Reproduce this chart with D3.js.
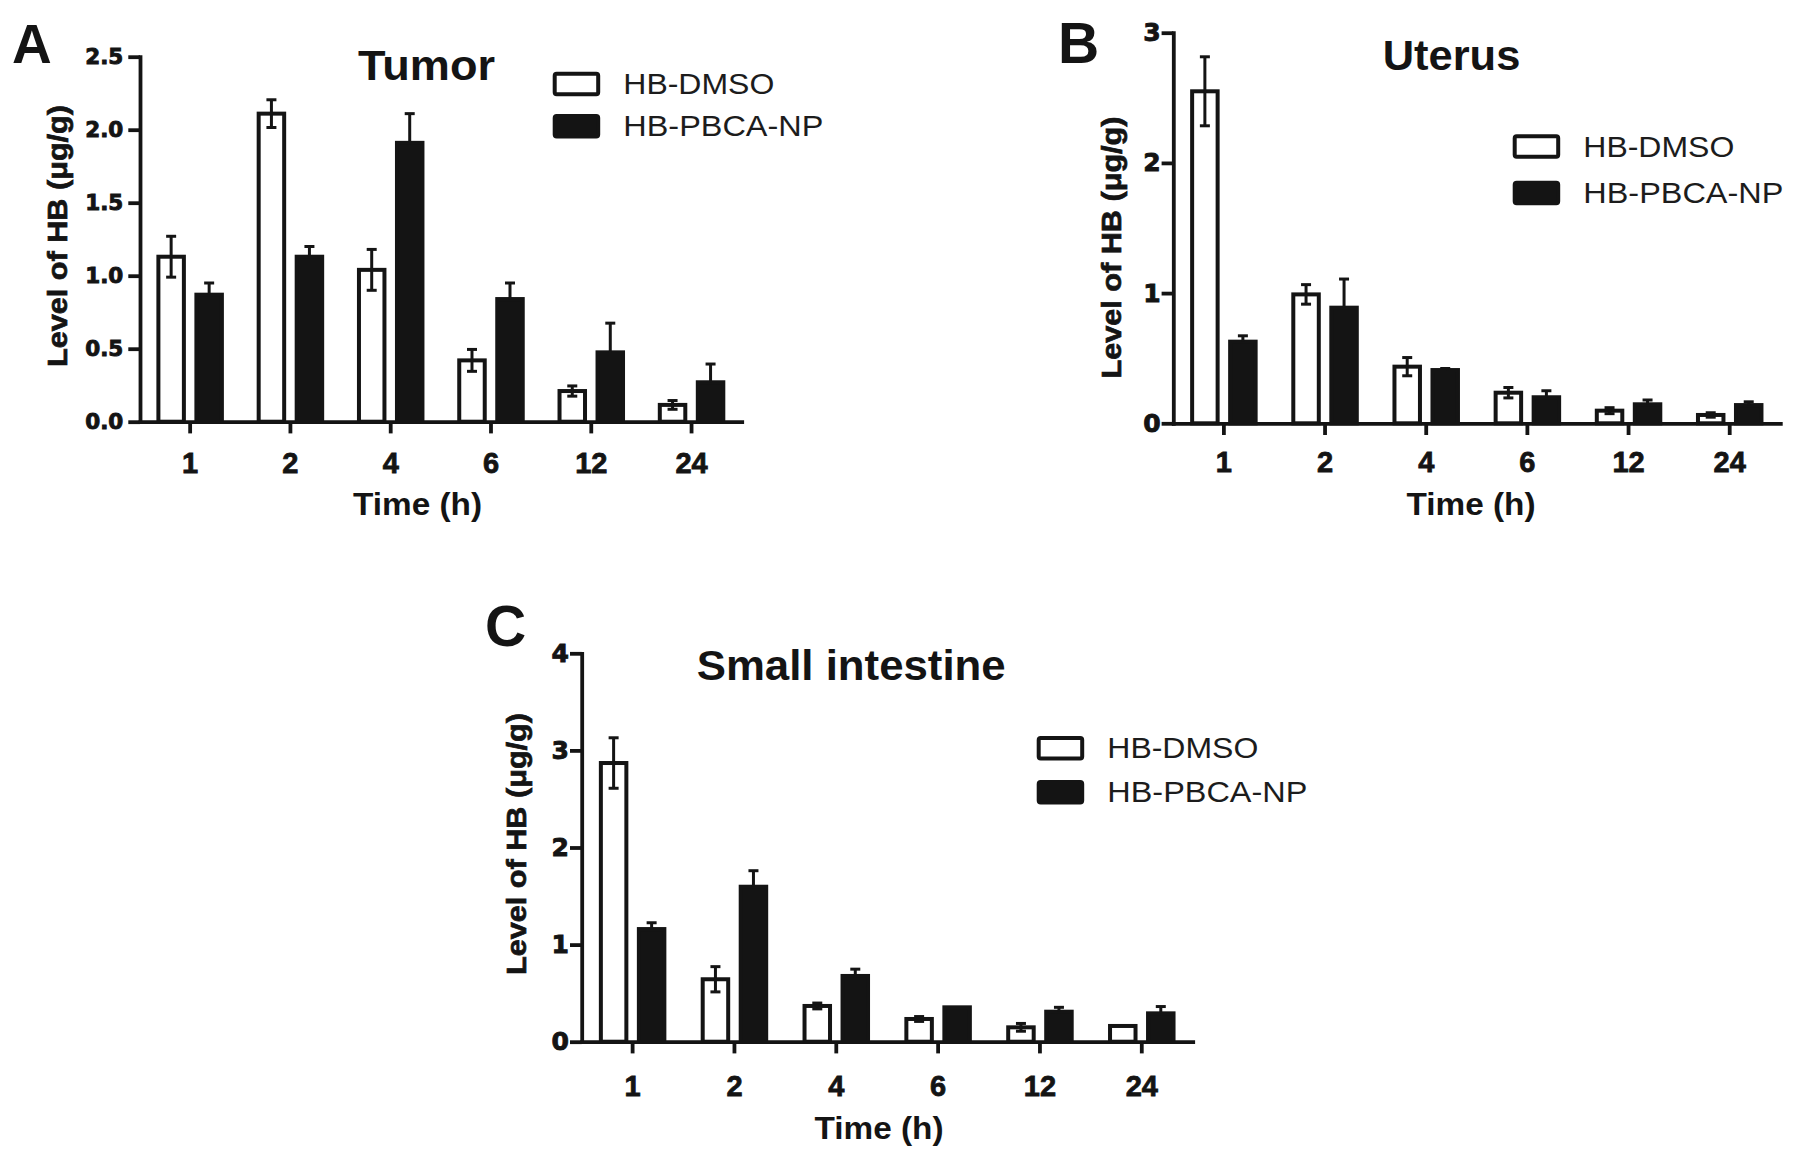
<!DOCTYPE html>
<html>
<head>
<meta charset="utf-8">
<script src="https://cdn.jsdelivr.net/npm/d3@7"></script>
<style>
  html, body { margin: 0; padding: 0; background: #ffffff; }
  svg { display: block; }
</style>
</head>
<body>
<svg id="chart" width="1801" height="1158"></svg>
<script>
// ---------------- DATA ----------------
const timeLabels = ["1", "2", "4", "6", "12", "24"];
const seriesNames = ["HB-DMSO", "HB-PBCA-NP"];

const tumorDMSO    = [1.13, 2.11, 1.04, 0.42, 0.21, 0.115];
const tumorDMSOErr = [0.14, 0.095, 0.14, 0.075, 0.035, 0.03];
const tumorNP      = [0.87, 1.13, 1.91, 0.84, 0.475, 0.27];
const tumorNPErr   = [0.08, 0.07, 0.20, 0.11, 0.20, 0.125];

const uterusDMSO    = [2.55, 0.99, 0.435, 0.235, 0.097, 0.064];
const uterusDMSOErr = [0.265, 0.075, 0.07, 0.04, 0.023, 0.017];
const uterusNP      = [0.627, 0.888, 0.409, 0.20, 0.146, 0.14];
const uterusNPErr   = [0.045, 0.22, 0.012, 0.05, 0.033, 0.025];

const intestineDMSO    = [2.87, 0.643, 0.368, 0.234, 0.148, 0.162];
const intestineDMSOErr = [0.26, 0.13, 0.03, 0.025, 0.04, 0];
const intestineNP      = [1.16, 1.596, 0.677, 0.354, 0.309, 0.292];
const intestineNPErr   = [0.065, 0.165, 0.07, 0, 0.045, 0.07];

const tumorTicks = [0, 0.5, 1.0, 1.5, 2.0, 2.5];
const uterusTicks = [0, 1, 2, 3];
const intestineTicks = [0, 1, 2, 3, 4];

const yLabel = "Level of HB (\u03BCg/g)";
const xLabel = "Time (h)";

// ---------------- LAYOUT ----------------
const svg = d3.select("#chart");
const INK = "#141414";
const SANS = "'Liberation Sans', Arial, Helvetica, sans-serif";
const WIDE = "'DejaVu Sans', 'Liberation Sans', sans-serif";

const panels = [
  {
    letter: "A", letterX: 12, letterY: 63, letterSize: 55,
    title: "Tumor", titleX: 358, titleY: 80, titleLen: 137,
    dmso: tumorDMSO, dmsoErr: tumorDMSOErr, np: tumorNP, npErr: tumorNPErr,
    ticks: tumorTicks, fmt: d3.format(".1f"), yTickSize: 21.5, yTickPad: 5,
    left: 140, right: 741.7, top: 56.7, bottom: 421.7,
    xTickBase: 51.6,
    legX: 552.7, legY: 71.7, legGap: 42.3,
    yLabX: 66.5, yLabY: 236,
    xLabX: 417.5, xLabY: 515
  },
  {
    letter: "B", letterX: 1058, letterY: 63, letterSize: 57,
    title: "Uterus", titleX: 1382.7, titleY: 70, titleLen: 137.6,
    dmso: uterusDMSO, dmsoErr: uterusDMSOErr, np: uterusNP, npErr: uterusNPErr,
    ticks: uterusTicks, fmt: d3.format("d"), yTickSize: 25, yTickPad: 1,
    left: 1173.3, right: 1780.3, top: 32.7, bottom: 423.3,
    xTickBase: 48.4,
    legX: 1512.7, legY: 134.3, legGap: 46.4,
    yLabX: 1120.7, yLabY: 247.5,
    xLabX: 1471, xLabY: 515
  },
  {
    letter: "C", letterX: 485, letterY: 646, letterSize: 57,
    title: "Small intestine", titleX: 696.7, titleY: 680, titleLen: 309,
    dmso: intestineDMSO, dmsoErr: intestineDMSOErr, np: intestineNP, npErr: intestineNPErr,
    ticks: intestineTicks, fmt: d3.format("d"), yTickSize: 25, yTickPad: 1,
    left: 581.7, right: 1192.7, top: 653.3, bottom: 1041.7,
    xTickBase: 54,
    legX: 1036.7, legY: 736, legGap: 44,
    yLabX: 525.5, yLabY: 844,
    xLabX: 879, xLabY: 1139
  }
];

panels.forEach(drawPanel);

function drawPanel(p) {
  const g = svg.append("g");
  const yMax = p.ticks[p.ticks.length - 1];

  const y = d3.scaleLinear().domain([0, yMax]).range([p.bottom, p.top]);
  const x0 = d3.scaleBand().domain(timeLabels).range([p.left, p.right]).padding(0);
  const x1 = d3.scaleBand().domain(seriesNames).range([-33.75, 33.75]).paddingInner(0.224).paddingOuter(0);

  const rows = timeLabels.map((t, i) => ({
    t,
    vals: [
      { s: seriesNames[0], v: p.dmso[i], e: p.dmsoErr[i], both: true },
      { s: seriesNames[1], v: p.np[i], e: p.npErr[i], both: false }
    ]
  }));

  const sw = 4;
  const bw = x1.bandwidth();

  // bars
  const grp = g.selectAll("g.grp").data(rows).join("g")
    .attr("class", "grp")
    .attr("transform", d => `translate(${x0(d.t) + x0.bandwidth() / 2},0)`);

  grp.selectAll("rect").data(d => d.vals).join("rect")
    .attr("x", d => x1(d.s) + sw / 2)
    .attr("width", bw - sw)
    .attr("y", d => y(d.v))
    .attr("height", d => y(0) - y(d.v))
    .attr("fill", d => d.s === seriesNames[0] ? "#ffffff" : INK)
    .attr("stroke", INK)
    .attr("stroke-width", sw);

  // error bars
  const eb = grp.selectAll("g.err").data(d => d.vals.filter(v => v.e > 0)).join("g")
    .attr("class", "err")
    .attr("transform", d => `translate(${x1(d.s) + bw / 2},0)`);
  eb.append("line")
    .attr("x1", 0).attr("x2", 0)
    .attr("y1", d => y(d.both ? d.v - d.e : d.v))
    .attr("y2", d => y(d.v + d.e))
    .attr("stroke", INK).attr("stroke-width", 3);
  eb.append("line")
    .attr("x1", -5).attr("x2", 5)
    .attr("y1", d => y(d.v + d.e)).attr("y2", d => y(d.v + d.e))
    .attr("stroke", INK).attr("stroke-width", 3);
  eb.filter(d => d.both).append("line")
    .attr("x1", -5).attr("x2", 5)
    .attr("y1", d => y(d.v - d.e)).attr("y2", d => y(d.v - d.e))
    .attr("stroke", INK).attr("stroke-width", 3);

  // y axis
  const ya = g.append("g")
    .attr("transform", `translate(${p.left},0)`)
    .call(d3.axisLeft(y).tickValues(p.ticks).tickFormat(p.fmt).tickSize(11.7).tickSizeOuter(0).tickPadding(p.yTickPad));
  ya.select(".domain").attr("stroke", INK).attr("stroke-width", 3.8).attr("stroke-linecap", "square");
  ya.selectAll(".tick line").attr("stroke", INK).attr("stroke-width", 3.8);
  ya.selectAll(".tick text")
    .attr("fill", INK).attr("stroke", INK).attr("stroke-width", 0.9)
    .style("font-family", WIDE).style("font-weight", "bold").style("font-size", p.yTickSize + "px");

  // x axis
  const xa = g.append("g")
    .attr("transform", `translate(0,${p.bottom})`)
    .call(d3.axisBottom(x0).tickSize(11.7).tickSizeOuter(0));
  xa.select(".domain").attr("stroke", INK).attr("stroke-width", 3.8).attr("stroke-linecap", "square");
  xa.selectAll(".tick line").attr("stroke", INK).attr("stroke-width", 3.8);
  xa.selectAll(".tick text")
    .attr("fill", INK).attr("stroke", INK).attr("stroke-width", 0.8)
    .attr("y", p.xTickBase).attr("dy", 0)
    .style("font-family", SANS).style("font-weight", "bold").style("font-size", "29px");

  // panel letter
  g.append("text")
    .attr("x", p.letterX).attr("y", p.letterY)
    .attr("fill", INK)
    .style("font-family", SANS).style("font-weight", "bold").style("font-size", p.letterSize + "px")
    .text(p.letter);

  // title
  g.append("text")
    .attr("x", p.titleX).attr("y", p.titleY)
    .attr("textLength", p.titleLen).attr("lengthAdjust", "spacingAndGlyphs")
    .attr("fill", INK)
    .style("font-family", SANS).style("font-weight", "bold").style("font-size", "43px")
    .text(p.title);

  // y label
  g.append("text")
    .attr("transform", `translate(${p.yLabX},${p.yLabY}) rotate(-90)`)
    .attr("text-anchor", "middle")
    .attr("textLength", 262).attr("lengthAdjust", "spacingAndGlyphs")
    .attr("fill", INK).attr("stroke", INK).attr("stroke-width", 0.7)
    .style("font-family", SANS).style("font-weight", "bold").style("font-size", "28px")
    .text(yLabel);

  // x label
  g.append("text")
    .attr("x", p.xLabX).attr("y", p.xLabY)
    .attr("text-anchor", "middle")
    .attr("textLength", 129).attr("lengthAdjust", "spacingAndGlyphs")
    .attr("fill", INK)
    .style("font-family", SANS).style("font-weight", "bold").style("font-size", "31px")
    .text(xLabel);

  // legend
  const legLens = [151, 200];
  const leg = g.selectAll("g.leg").data(seriesNames).join("g")
    .attr("class", "leg")
    .attr("transform", (d, i) => `translate(${p.legX},${p.legY + i * p.legGap})`);
  leg.append("rect")
    .attr("x", sw / 2).attr("y", sw / 2)
    .attr("width", 47.5 - sw).attr("height", 24.5 - sw)
    .attr("rx", 2)
    .attr("fill", (d, i) => i === 0 ? "#ffffff" : INK)
    .attr("stroke", INK).attr("stroke-width", sw);
  leg.append("text")
    .attr("x", 70.6).attr("y", 22.3)
    .attr("textLength", (d, i) => legLens[i]).attr("lengthAdjust", "spacingAndGlyphs")
    .attr("fill", "#1c1c1c")
    .style("font-family", SANS).style("font-size", "29px")
    .text(d => d);
}
</script>
</body>
</html>
